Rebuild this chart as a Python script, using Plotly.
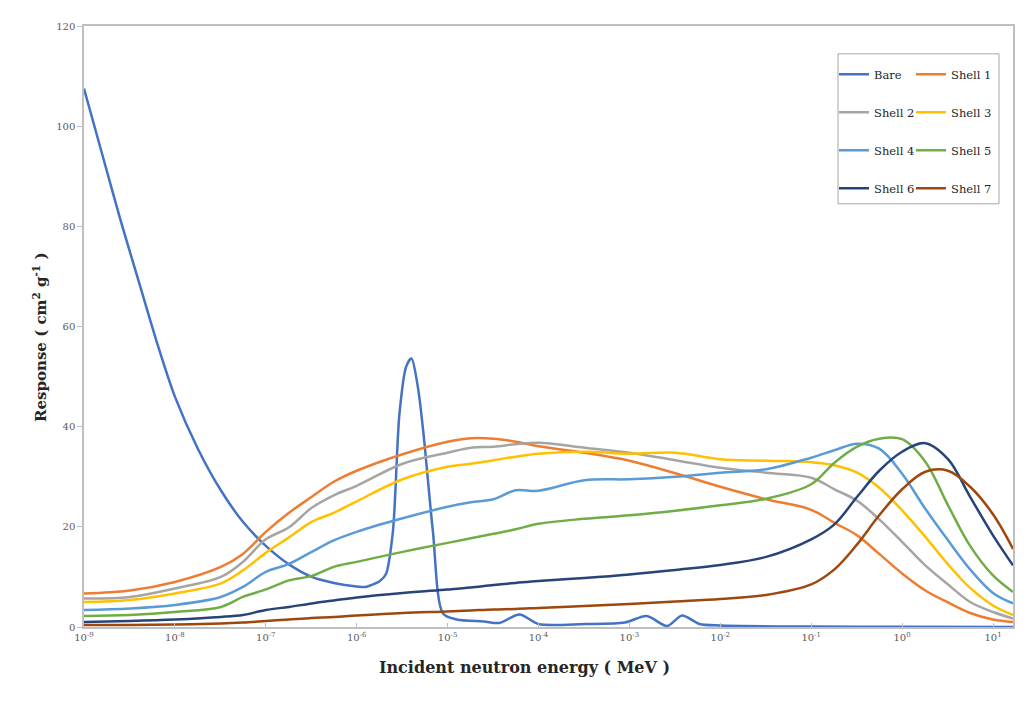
import plotly.graph_objects as go

# ---------------- data ----------------
shell_energy = [1e-9, 3.2e-9, 1e-8, 3.2e-8, 5.6e-8, 1e-7, 1.8e-7, 3.2e-7, 5.6e-7, 1e-6,
                3.2e-6, 1e-5, 1.8e-5, 3.2e-5, 5.6e-5, 1e-4, 3.2e-4, 1e-3, 3.2e-3, 1e-2,
                3.2e-2, 0.1, 0.18, 0.32, 0.56, 1.0, 1.8, 3.2, 5.6, 10.0, 16.6]

shell1 = [6.7, 7.3, 9.0, 12.0, 14.6, 19.0, 22.8, 26.0, 29.0, 31.2,
          34.5, 37.0, 37.7, 37.6, 37.0, 36.1, 34.8, 33.2, 30.7, 28.0,
          25.5, 23.4, 20.8, 18.3, 14.6, 10.7, 7.3, 4.9, 2.8, 1.5, 1.0]
shell2 = [5.7, 6.0, 7.7, 10.0, 13.0, 17.5, 19.9, 23.8, 26.3, 28.2,
          32.6, 34.8, 35.8, 36.0, 36.5, 36.8, 35.8, 34.8, 33.3, 31.8,
          30.8, 29.8, 27.5, 25.2, 21.5, 17.0, 12.3, 8.5, 5.0, 3.0, 1.7]
shell3 = [5.0, 5.4, 6.7, 8.7, 11.3, 14.8, 17.9, 21.0, 22.8, 25.1,
          29.5, 32.0, 32.6, 33.3, 34.0, 34.6, 35.0, 34.6, 34.8, 33.5,
          33.2, 32.9, 32.3, 30.8, 27.8, 23.3, 18.0, 12.5, 7.8, 4.3, 2.4]
shell4 = [3.4, 3.7, 4.4, 6.0, 8.0, 11.0, 12.6, 15.0, 17.3, 19.0,
          21.7, 24.0, 24.9, 25.5, 27.3, 27.2, 29.3, 29.5, 30.0, 30.8,
          31.5, 33.8, 35.3, 36.6, 35.6, 30.6, 23.6, 17.3, 11.5, 6.8, 4.7]
shell5 = [2.2, 2.4, 3.0, 4.0, 6.0, 7.5, 9.3, 10.2, 12.0, 13.0,
          15.0, 16.8, 17.7, 18.6, 19.5, 20.6, 21.6, 22.3, 23.2, 24.3,
          25.6, 28.5, 32.8, 36.0, 37.6, 37.5, 33.0, 24.3, 16.2, 10.3, 7.0]
shell6 = [1.0, 1.2, 1.5, 2.0, 2.4, 3.4, 4.0, 4.7, 5.3, 5.9,
          6.8, 7.5, 7.9, 8.4, 8.8, 9.2, 9.8, 10.5, 11.4, 12.4,
          14.0, 17.5, 20.5, 26.0, 31.2, 35.0, 36.7, 33.5, 26.0, 18.3, 12.3]
shell7 = [0.4, 0.4, 0.5, 0.7, 0.9, 1.2, 1.5, 1.8, 2.0, 2.3,
          2.8, 3.1, 3.3, 3.5, 3.6, 3.8, 4.2, 4.6, 5.1, 5.6,
          6.4, 8.5, 11.5, 16.5, 22.3, 27.5, 31.0, 31.2, 28.0, 22.5, 15.6]

bare_energy = [1e-9, 1.58e-9, 2.5e-9, 4e-9, 6.3e-9, 1e-8, 1.8e-8, 3.2e-8, 5.6e-8,
               1e-7, 1.8e-7, 3.2e-7, 5.6e-7, 1e-6, 1.26e-6, 1.8e-6, 2.1e-6, 2.5e-6, 2.95e-6,
               3.5e-6, 4.0e-6, 4.7e-6, 5.4e-6, 6.9e-6, 8.9e-6, 1.26e-5, 2.5e-5, 3.7e-5, 6.2e-5,
               1e-4, 3.2e-4, 8.9e-4, 1.55e-3, 2.6e-3, 3.8e-3, 5.9e-3, 1e-2, 0.1, 1.0, 16.6]
bare = [107.5, 94.5, 81.5, 69.0, 57.0, 46.0, 35.5, 27.3, 21.0,
        16.2, 12.5, 10.0, 8.8, 8.1, 8.0, 9.2, 10.6, 19.0, 42.5,
        52.0, 53.6, 48.0, 39.0, 19.0, 2.7, 1.5, 1.1, 0.8, 2.5,
        0.6, 0.6, 0.9, 2.2, 0.2, 2.3, 0.6, 0.3, 0.1, 0.05, 0.0]

x_tick_values = [1e-9, 1e-8, 1e-7, 1e-6, 1e-5, 1e-4, 1e-3, 1e-2, 1e-1, 1e0, 1e1]
x_tick_labels = ["10<sup>-9</sup>", "10<sup>-8</sup>", "10<sup>-7</sup>", "10<sup>-6</sup>",
                 "10<sup>-5</sup>", "10<sup>-4</sup>", "10<sup>-3</sup>", "10<sup>-2</sup>",
                 "10<sup>-1</sup>", "10<sup>0</sup>", "10<sup>1</sup>"]
y_tick_values = [0, 20, 40, 60, 80, 100, 120]

series_names = ["Bare", "Shell 1", "Shell 2", "Shell 3", "Shell 4", "Shell 5", "Shell 6", "Shell 7"]
series_colors = ["#4472C4", "#ED7D31", "#A5A5A5", "#FFC000", "#5B9BD5", "#70AD47", "#264478", "#9E480E"]

# ---------------- figure ----------------
SERIF = "DejaVu Serif, Liberation Serif, serif"
fig = go.Figure()

all_series = [(bare_energy, bare), (shell_energy, shell1), (shell_energy, shell2),
              (shell_energy, shell3), (shell_energy, shell4), (shell_energy, shell5),
              (shell_energy, shell6), (shell_energy, shell7)]

for i, ((xs, ys), name, color) in enumerate(zip(all_series, series_names, series_colors)):
    fig.add_trace(go.Scatter(
        x=xs, y=ys, name=name, mode="lines",
        line=dict(color=color, width=2.5, shape="spline", smoothing=0.8 if i == 0 else 1.0),
        legend="legend" if i % 2 == 0 else "legend2",
        legendgroup=name,
    ))

# target plot-area edges in screen pixels (page body adds an 8 px offset)
OFF = 8
PL, PR, PT, PB = 84, 1013, 22, 627
W, H = 1019, 690


def px_to_paper_x(px):
    return (px - PL) / (PR - PL)


def py_to_paper_y(py):
    return (PB - py) / (PB - PT)


legend_common = dict(
    font=dict(family=SERIF, size=11.5, color="#262626"),
    bgcolor="rgba(0,0,0,0)", borderwidth=0, orientation="v",
    tracegroupgap=19, yanchor="top", xanchor="left", itemwidth=30,
)

fig.update_layout(
    width=W, height=H,
    margin=dict(l=PL - OFF, r=W - (PR - OFF), t=PT - OFF, b=H - (PB - OFF), pad=0),
    paper_bgcolor="white", plot_bgcolor="white",
    showlegend=True,
    legend=dict(x=px_to_paper_x(834), y=py_to_paper_y(56), **legend_common),
    legend2=dict(x=px_to_paper_x(911), y=py_to_paper_y(56), **legend_common),
    xaxis=dict(
        type="log", range=[-9, 1.22],
        tickvals=x_tick_values, ticktext=x_tick_labels,
        ticks="inside", ticklen=4, tickcolor="#bfbfbf",
        showline=True, linecolor="#bfbfbf", linewidth=1.5, mirror=True,
        showgrid=False, zeroline=False,
        tickfont=dict(family=SERIF, size=10, color="#595959"),
    ),
    yaxis=dict(
        range=[0, 120], tickvals=y_tick_values,
        ticks="outside", ticklen=5, tickcolor="#bfbfbf",
        showline=True, linecolor="#bfbfbf", linewidth=1.5, mirror=True,
        showgrid=False, zeroline=False,
        tickfont=dict(family=SERIF, size=10, color="#595959"),
    ),
    shapes=[dict(type="rect", xref="paper", yref="paper",
                 x0=px_to_paper_x(838), x1=px_to_paper_x(999),
                 y0=py_to_paper_y(201), y1=py_to_paper_y(50),
                 line=dict(color="#a6a6a6", width=1), fillcolor="rgba(0,0,0,0)")],
    annotations=[
        dict(text="<b>Incident neutron energy ( MeV )</b>", xref="paper", yref="paper",
             x=px_to_paper_x(524), y=py_to_paper_y(668), xanchor="center", yanchor="middle",
             showarrow=False, font=dict(family=SERIF, size=16, color="#262626")),
        dict(text="<b>Response ( cm<sup>2</sup> g<sup>-1</sup> )</b>", xref="paper", yref="paper",
             x=px_to_paper_x(40), y=py_to_paper_y(336), xanchor="center", yanchor="middle",
             textangle=-90, showarrow=False, font=dict(family=SERIF, size=15, color="#262626")),
    ],
)

fig.write_html("out.html")
